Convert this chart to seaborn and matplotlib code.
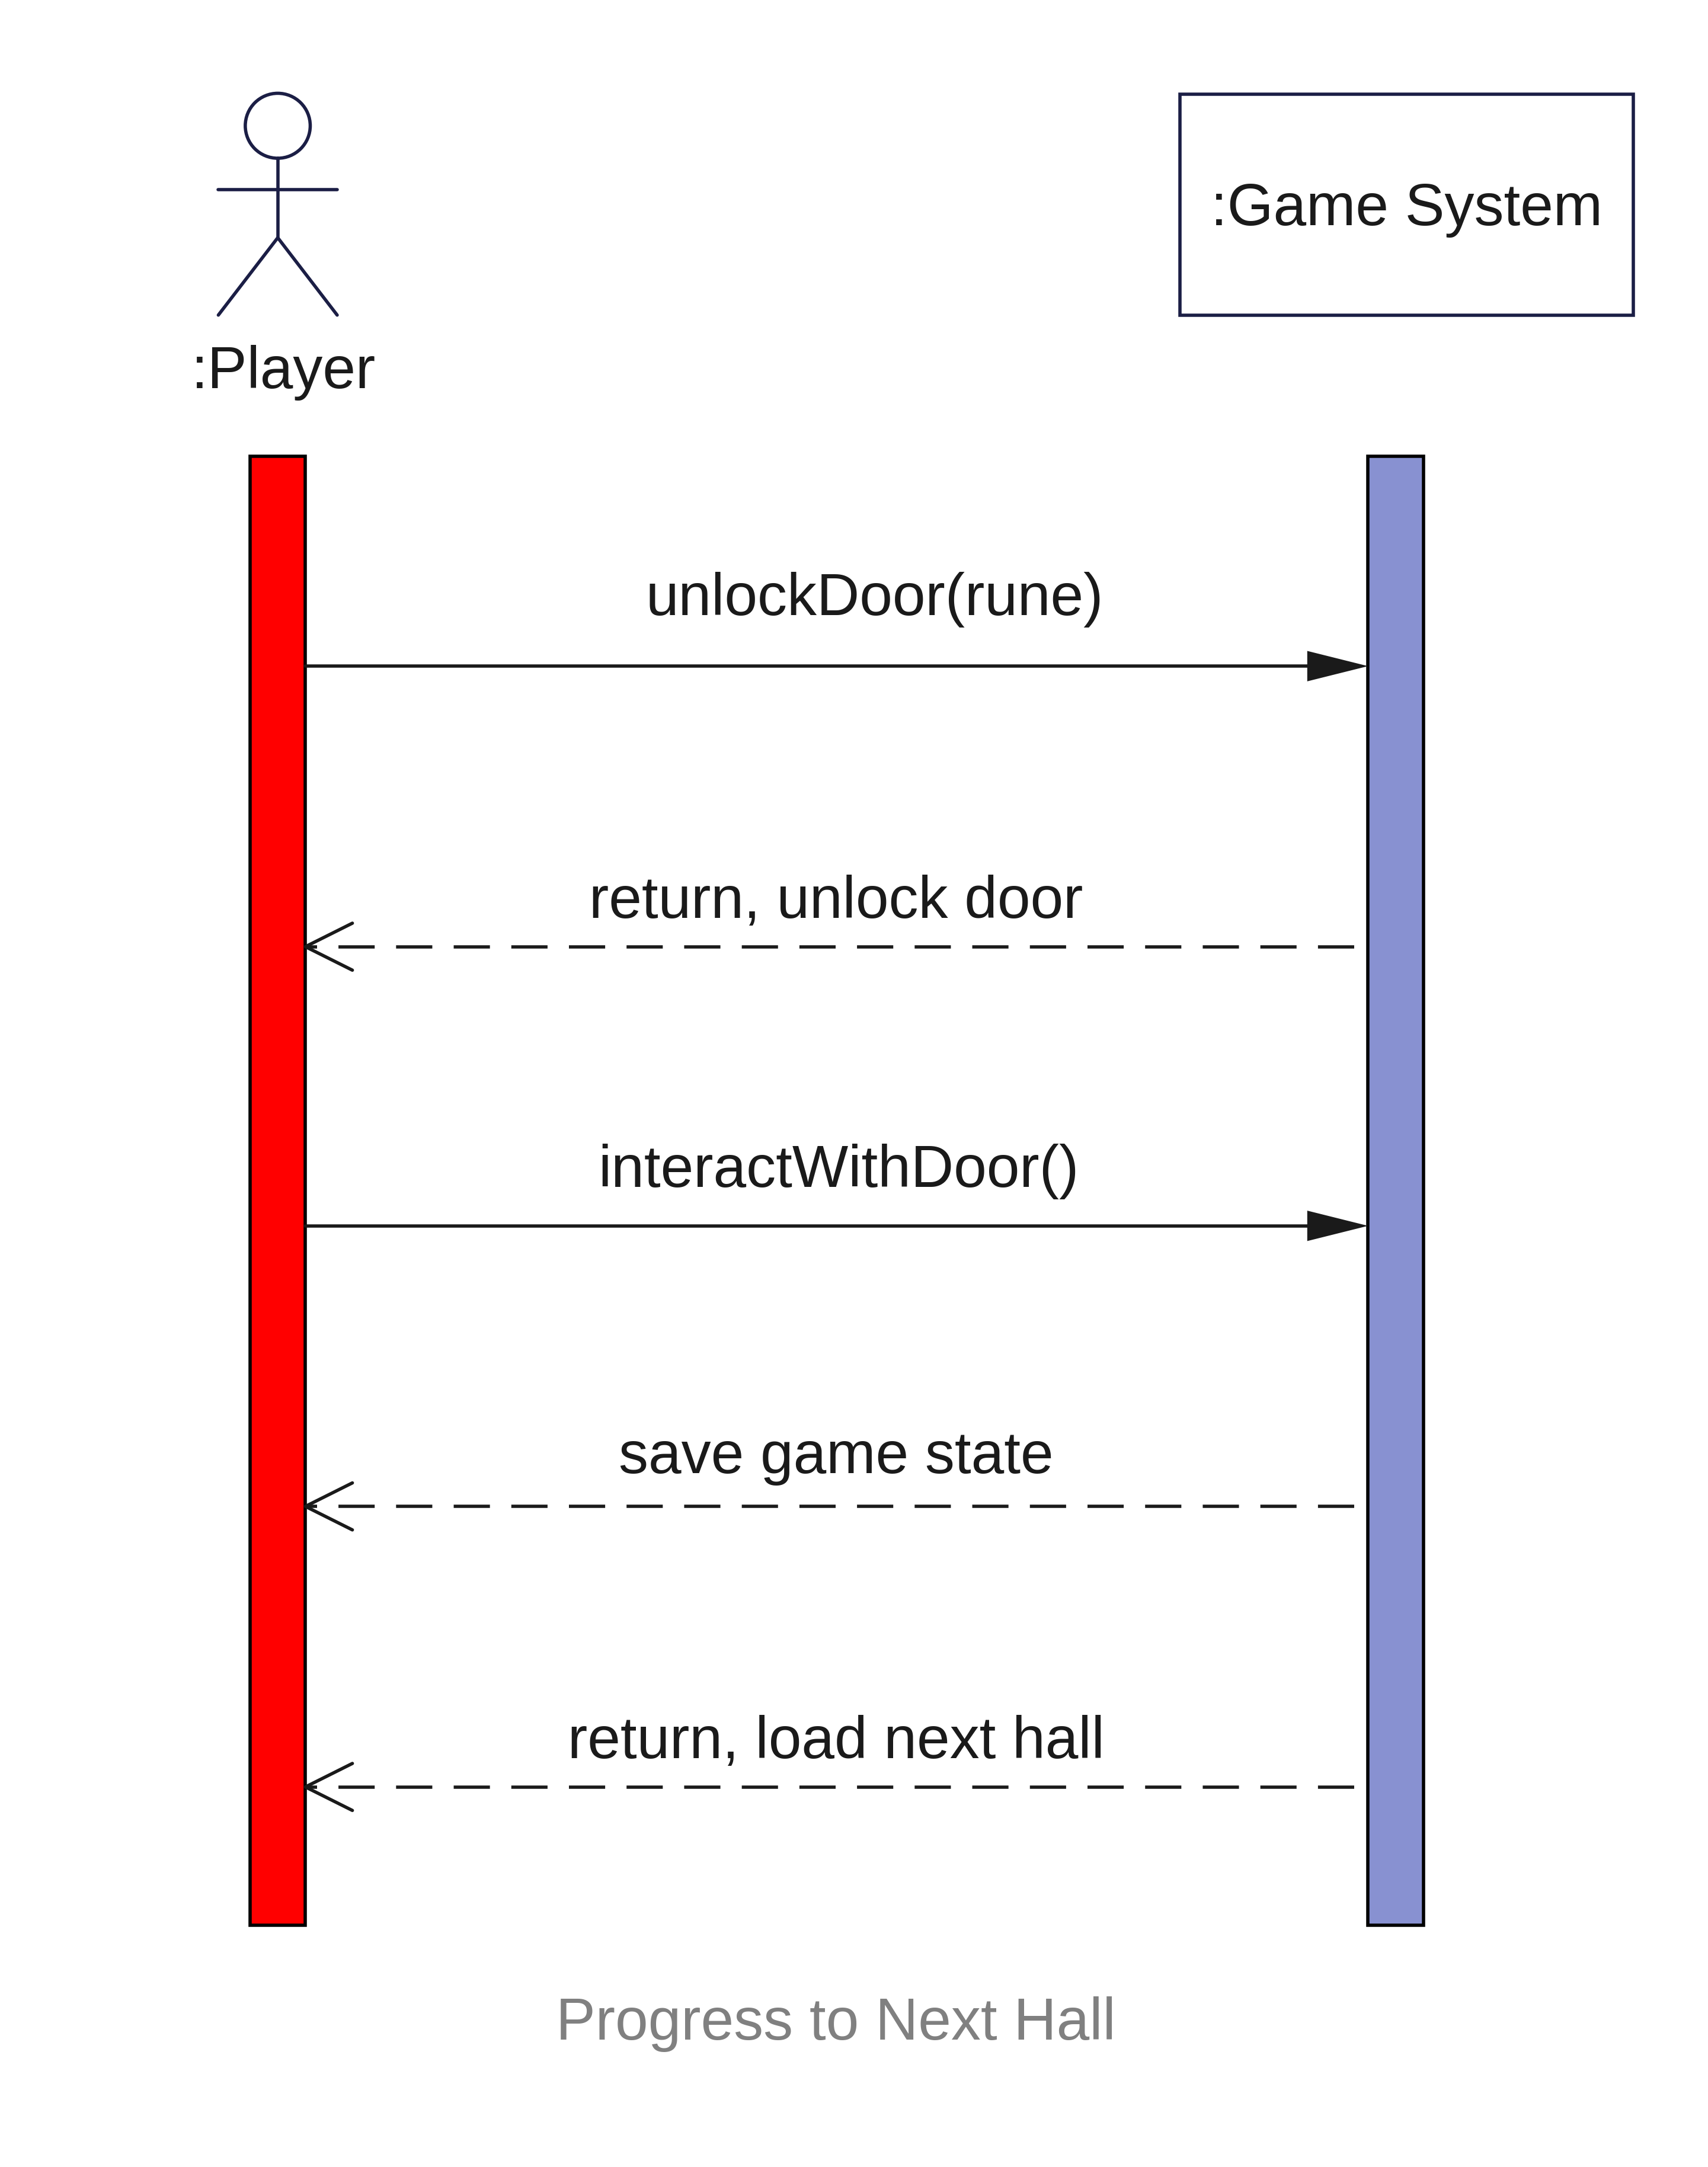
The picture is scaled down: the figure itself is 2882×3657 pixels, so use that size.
import matplotlib
matplotlib.use("Agg")
import matplotlib.pyplot as plt
import matplotlib.patches as mpatches
import seaborn as sns
import pandas as pd

# participants
actor_name = ":Player"
system_name = ":Game System"
title = "Progress to Next Hall"

# messages (top to bottom)
msg_labels = ["unlockDoor(rune)", "return, unlock door", "interactWithDoor()",
              "save game state", "return, load next hall"]
msg_kinds = ["call", "return", "call", "return", "return"]
msg_y = [482, 685, 887, 1090, 1293]
label_y = [445, 664, 859, 1066, 1272]
label_x = [633, 605, 607, 605, 605]

W, H = 1236, 1568
sns.set_theme(style="white")
plt.rcParams['font.family'] = ['Liberation Sans', 'DejaVu Sans']

fig = plt.figure(figsize=(14.41, 18.285), dpi=200)
ax = fig.add_axes([0, 0, 1, 1])
ax.set_xlim(0, W)
ax.set_ylim(H, 0)
ax.axis("off")

navy = "#1b1e45"
txt = "#1a1a1a"
fs = 36
lw = 2.0

# actor stick figure
ax.add_patch(mpatches.Ellipse((201, 91), 47, 47, fill=False, ec=navy, lw=lw))
ax.plot([201, 201], [114.5, 172], color=navy, lw=lw)
ax.plot([158, 244], [137, 137], color=navy, lw=lw)
ax.plot([158, 201, 244], [228, 172, 228], color=navy, lw=lw)
ax.text(205, 281, actor_name, ha="center", va="baseline", fontsize=fs, color=txt)

# system box
ax.add_patch(mpatches.Rectangle((854, 68), 328, 160, fill=False, ec=navy, lw=lw))
ax.text(1018, 163, system_name, ha="center", va="baseline", fontsize=fs, color=txt)

# lifelines (activation bars)
left_x, right_x, bar_w = 181, 990, 40
top, bottom = 330, 1393
ax.add_patch(mpatches.Rectangle((left_x, top), bar_w, bottom - top,
                                fc="#ff0000", ec="black", lw=lw))
ax.add_patch(mpatches.Rectangle((right_x, top), bar_w, bottom - top,
                                fc="#8891d1", ec="black", lw=lw))

src = left_x + bar_w
dst = right_x
for lab, kind, y, ly, lx in zip(msg_labels, msg_kinds, msg_y, label_y, label_x):
    if kind == "call":
        seg = pd.DataFrame({"x": [src, dst - 40], "y": [y, y]})
        sns.lineplot(data=seg, x="x", y="y", ax=ax, color=txt, lw=lw,
                     sort=False, estimator=None)
        ax.fill([dst, dst - 44, dst - 44], [y, y - 11, y + 11], color=txt, lw=0)
    else:
        seg = pd.DataFrame({"x": [dst - 10, src], "y": [y, y]})
        sns.lineplot(data=seg, x="x", y="y", ax=ax, color=txt, lw=lw,
                     sort=False, estimator=None, dashes=False)
        ax.lines[-1].set_dashes([11, 6.5])
        ax.plot([src + 34, src, src + 34], [y - 17, y, y + 17], color=txt, lw=lw)
    ax.text(lx, ly, lab, ha="center", va="baseline", fontsize=fs, color=txt)

ax.text(605, 1476, title, ha="center", va="baseline", fontsize=fs, color="#808080")

ax.set_xlim(0, W)
ax.set_ylim(H, 0)
ax.axis("off")
fig.savefig("out.png", dpi=200, facecolor="white")
